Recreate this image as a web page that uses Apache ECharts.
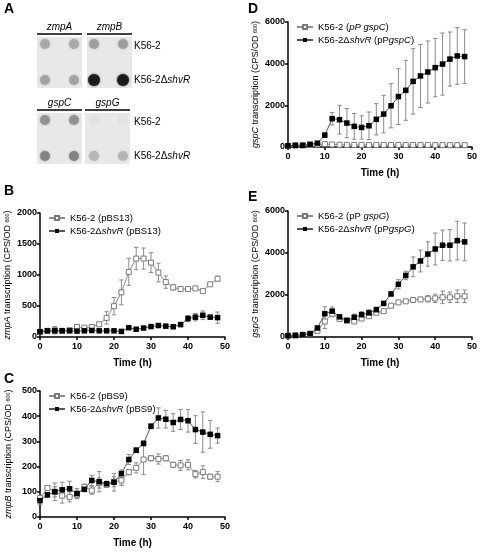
<!DOCTYPE html>
<html><head><meta charset="utf-8">
<script src="https://cdn.jsdelivr.net/npm/echarts/dist/echarts.min.js"></script>
<style>html,body{margin:0;padding:0;background:#fff}#c{width:480px;height:554px}</style>
</head><body><div id="c"></div>
<script>
// ---- data ----
const hours = [0,2,4,6,8,10,12,14,16,18,20,22,24,26,28,30,32,34,36,38,40,42,44,46,48];

// Panel B: zmpA (pBS13)
const zmpA_wt     = [85,100,110,100,110,162,150,162,205,308,497,720,1050,1265,1265,1200,1040,886,800,773,773,784,740,850,940];
const zmpA_wt_err = [15,20,60,20,20,25,20,20,25,100,140,200,220,180,170,160,150,100,40,40,20,20,25,20,40];
const zmpA_mut     = [85,100,100,100,100,95,100,105,100,100,100,90,150,125,145,168,185,175,165,200,297,320,350,320,313];
const zmpA_mut_err = [10,10,15,10,10,10,10,10,10,10,10,10,15,10,10,15,15,15,15,20,50,60,70,30,90];

// Panel C: zmpB (pBS9)
const zmpB_wt     = [75,115,100,85,80,88,120,105,135,128,140,145,178,195,228,233,230,233,207,205,207,170,178,160,160];
const zmpB_wt_err = [10,10,20,30,20,15,10,15,20,10,20,20,10,20,60,10,20,10,10,20,20,15,25,10,20];
const zmpB_mut     = [65,88,100,108,112,93,110,145,140,132,138,172,228,265,292,360,393,388,375,387,382,347,337,328,323];
const zmpB_mut_err = [15,10,35,30,30,20,10,20,40,10,35,15,20,10,10,10,40,35,35,40,45,55,80,55,30];

// Panel D: gspC (pPgspC)
const gspC_wt     = [50,70,80,100,120,140,120,110,100,100,100,100,100,100,100,100,100,100,100,100,90,90,90,90,90];
const gspC_wt_err = [20,20,20,20,20,20,20,20,20,20,20,20,20,20,20,20,20,20,20,20,20,20,20,20,20];
const gspC_mut     = [60,80,80,130,185,570,1360,1310,1150,990,940,1020,1330,1580,1980,2420,2720,3150,3410,3600,3810,3980,4220,4370,4340];
const gspC_mut_err = [20,30,30,40,60,100,300,690,700,620,560,660,750,900,1060,1340,1440,1570,1520,1490,1400,1490,1300,1360,1290];

// Panel E: gspG (pPgspG)
const gspG_wt     = [60,70,100,150,290,740,1110,850,800,740,880,990,1150,1230,1490,1650,1700,1760,1790,1820,1840,1890,1890,1940,1940];
const gspG_wt_err = [20,20,20,20,40,340,150,60,40,60,60,60,50,50,60,80,60,60,80,150,200,300,250,300,300];
const gspG_mut     = [65,80,110,160,430,1110,1230,960,780,940,1060,1150,1300,1600,2050,2510,2930,3340,3620,3950,4190,4370,4370,4590,4530];
const gspG_mut_err = [20,20,20,30,60,330,200,100,60,150,150,150,120,100,100,220,200,470,520,580,760,720,750,920,900];

// Panel A: dot blot (signal intensity 0..1)
const blotGenes = ['zmpA','zmpB','gspC','gspG'];
const blotStrains = ['K56-2','K56-2\u0394shvR'];
const blotWT  = [0.30, 0.35, 0.41, 0.03];
const blotMut = [0.33, 0.97, 0.48, 0.24];

// ---- build ----
const FONT = 'Liberation Sans, Arial, Helvetica, sans-serif';
const chart = echarts.init(document.getElementById('c'), null, {renderer:'canvas'});

const panels = [
  {left:40, top:213, width:185, height:124, max:2000, interval:500, gene:'zmpA',
   wt:zmpA_wt, wtE:zmpA_wt_err, mut:zmpA_mut, mutE:zmpA_mut_err,
   wtName:'K56-2 (pBS13)', mutName:'K56-2\u0394shvR (pBS13)',
   wtRich:'K56-2 (pBS13)', mutRich:'K56-2\u0394{i|shvR} (pBS13)'},
  {left:40, top:391, width:185, height:126, max:500, interval:100, gene:'zmpB',
   wt:zmpB_wt, wtE:zmpB_wt_err, mut:zmpB_mut, mutE:zmpB_mut_err,
   wtName:'K56-2 (pBS9)', mutName:'K56-2\u0394shvR (pBS9)',
   wtRich:'K56-2 (pBS9)', mutRich:'K56-2\u0394{i|shvR} (pBS9)'},
  {left:288, top:22, width:187, height:125, max:6000, interval:2000, gene:'gspC',
   wt:gspC_wt, wtE:gspC_wt_err, mut:gspC_mut, mutE:gspC_mut_err,
   wtName:'K56-2 (pP gspC)', mutName:'K56-2\u0394shvR (pPgspC)',
   wtRich:'K56-2 ({i|pP gspC})', mutRich:'K56-2\u0394{i|shvR} (pP{i|gspC})'},
  {left:288, top:211, width:187, height:126, max:6000, interval:2000, gene:'gspG',
   wt:gspG_wt, wtE:gspG_wt_err, mut:gspG_mut, mutE:gspG_mut_err,
   wtName:'K56-2 (pP gspG)', mutName:'K56-2\u0394shvR (pPgspG)',
   wtRich:'K56-2 (pP {i|gspG})', mutRich:'K56-2\u0394{i|shvR} (pP{i|gspG})'}
];

const grids = [], xAxes = [], yAxes = [], series = [], legends = [];
const axisLine = {show:true, lineStyle:{color:'#000', width:1.5}};
const axisTick = {show:true, inside:false, length:3, lineStyle:{color:'#000', width:1.5}};
const tickLabel = {color:'#000', fontFamily:FONT, fontWeight:'bold', fontSize:9, formatter:v => String(v)};

function errRender(color){
  return function(params, api){
    const x = api.value(0), lo = api.value(1), hi = api.value(2);
    const p1 = api.coord([x, hi]), p2 = api.coord([x, lo]);
    const w = 2.2;
    const st = {stroke:color, lineWidth:1};
    return {type:'group', children:[
      {type:'line', shape:{x1:p1[0], y1:p1[1], x2:p2[0], y2:p2[1]}, style:st},
      {type:'line', shape:{x1:p1[0]-w, y1:p1[1], x2:p1[0]+w, y2:p1[1]}, style:st},
      {type:'line', shape:{x1:p2[0]-w, y1:p2[1], x2:p2[0]+w, y2:p2[1]}, style:st}
    ]};
  };
}

panels.forEach((p, i) => {
  grids.push({left:p.left, top:p.top, width:p.width, height:p.height, containLabel:false});
  xAxes.push({gridIndex:i, type:'value', min:0, max:50, interval:10,
    axisLine, axisTick, axisLabel:{...tickLabel, margin:5}, splitLine:{show:false},
    name:'Time (h)', nameLocation:'middle', nameGap:21,
    nameTextStyle:{color:'#000', fontFamily:FONT, fontWeight:'bold', fontSize:10}});
  yAxes.push({gridIndex:i, type:'value', min:0, max:p.max, interval:p.interval,
    axisLine, axisTick, axisLabel:{...tickLabel, margin:3}, splitLine:{show:false},
    name:'{i|' + p.gene + '} transcription (CPS/OD {s|600})', nameLocation:'middle', nameRotate:90, nameGap:p.max>=1000 ? 28 : 27,
    nameTextStyle:{color:'#000', fontFamily:FONT, fontSize:9,
      rich:{i:{fontStyle:'italic', fontSize:9, fontFamily:FONT, color:'#000'},
            s:{fontSize:5.5, fontFamily:FONT, color:'#000'}}}});
  const mk = (vals, errs) => hours.map((h, k) => [h, Math.max(0, vals[k]-errs[k]), vals[k]+errs[k]]);
  series.push({type:'custom', xAxisIndex:i, yAxisIndex:i, renderItem:errRender('#8a8a8a'),
    data:mk(p.wt, p.wtE), encode:{x:0, y:[1,2]}, z:1, silent:true});
  series.push({type:'custom', xAxisIndex:i, yAxisIndex:i, renderItem:errRender('#8a8a8a'),
    data:mk(p.mut, p.mutE), encode:{x:0, y:[1,2]}, z:1, silent:true});
  series.push({type:'line', name:p.wtName, xAxisIndex:i, yAxisIndex:i,
    data:hours.map((h,k)=>[h, p.wt[k]]), symbol:'rect', symbolSize:5, showAllSymbol:true,
    lineStyle:{color:'#8c8c8c', width:1}, itemStyle:{color:'#fff', borderColor:'#7a7a7a', borderWidth:1},
    z:3, animation:false});
  series.push({type:'line', name:p.mutName, xAxisIndex:i, yAxisIndex:i,
    data:hours.map((h,k)=>[h, p.mut[k]]), symbol:'rect', symbolSize:5.5, showAllSymbol:true,
    lineStyle:{color:'#555', width:1}, itemStyle:{color:'#000', borderColor:'#000', borderWidth:0},
    z:4, animation:false});
  const richMap = {}; richMap[p.wtName] = p.wtRich; richMap[p.mutName] = p.mutRich;
  legends.push({data:[p.wtName, p.mutName], orient:'vertical', left:p.left+3, top:p.top-5,
    itemWidth:16, itemHeight:5, itemGap:3,
    formatter:n => richMap[n],
    textStyle:{color:'#000', fontFamily:FONT, fontSize:9.5,
      rich:{i:{fontStyle:'italic', fontSize:9.5, fontFamily:FONT, color:'#000'}}}});
});

// Panel A hidden grid for the blot dots
const gA = panels.length;
grids.push({left:37, top:37, width:96, height:126});
xAxes.push({gridIndex:gA, type:'value', min:0, max:96, show:false});
yAxes.push({gridIndex:gA, type:'value', min:0, max:126, inverse:true, show:false});
const dotData = [];
blotGenes.forEach((g, gi) => {
  const bx = (gi % 2) * 50, by = Math.floor(gi / 2) * 76;
  [blotWT[gi], blotMut[gi]].forEach((v, si) => {
    [8, 37].forEach(dx => {
      dotData.push({value:[bx + dx + (gi%2 ? -1 : 0), by + 7 + si*36], intensity:v});
    });
  });
});
function gray(v){ const c = Math.round(232 - 222*v); return 'rgb(' + c + ',' + c + ',' + c + ')'; }
series.push({type:'scatter', xAxisIndex:gA, yAxisIndex:gA, symbol:'circle',
  data:dotData.map(d => ({value:d.value, symbolSize:d.intensity > 0.9 ? 12 : 10,
    itemStyle:{color:gray(d.intensity), shadowBlur:2, shadowColor:gray(d.intensity)}})),
  silent:true, animation:false, z:2});

// graphic: panel letters, blot frames & labels
const graphic = [];
const letter = (t, x, y) => ({type:'text', left:x, top:y, style:{text:t, fontFamily:FONT, fontWeight:'bold', fontSize:14, fill:'#000'}});
graphic.push(letter('A', 4, 2), letter('B', 4, 184), letter('C', 4, 372), letter('D', 248, 2), letter('E', 248, 190));
blotGenes.forEach((g, gi) => {
  const x = 37 + (gi % 2) * 50 - (gi===3 ? 2 : 0), y = 37 + Math.floor(gi / 2) * 76;
  graphic.push({type:'rect', shape:{x:x, y:y, width:45, height:51}, style:{fill:'#e8e8e8'}, z:0});
  graphic.push({type:'line', shape:{x1:x, y1:y-3, x2:x+45, y2:y-3}, style:{stroke:'#000', lineWidth:1.5}, z:1});
  graphic.push({type:'text', x:x+22.5, y:y-5, style:{text:g, fontFamily:FONT, fontStyle:'italic', fontSize:10, fill:'#000', textAlign:'center', textVerticalAlign:'bottom'}});
});
[0, 1].forEach(r => {
  const y0 = 37 + r * 76;
  graphic.push({type:'text', x:134, y:y0+9, style:{rich:{i:{fontStyle:'italic', fontSize:10, fontFamily:FONT, fill:'#000'}}, text:'K56-2', fontFamily:FONT, fontSize:10, fill:'#000', textVerticalAlign:'middle'}});
  graphic.push({type:'text', x:134, y:y0+43, style:{rich:{i:{fontStyle:'italic', fontSize:10, fontFamily:FONT, fill:'#000'}}, text:'K56-2\u0394{i|shvR}', fontFamily:FONT, fontSize:10, fill:'#000', textVerticalAlign:'middle'}});
});

chart.setOption({
  animation:false,
  backgroundColor:'#fff',
  grid:grids, xAxis:xAxes, yAxis:yAxes, series, legend:legends, graphic
});
</script>
</body></html>
